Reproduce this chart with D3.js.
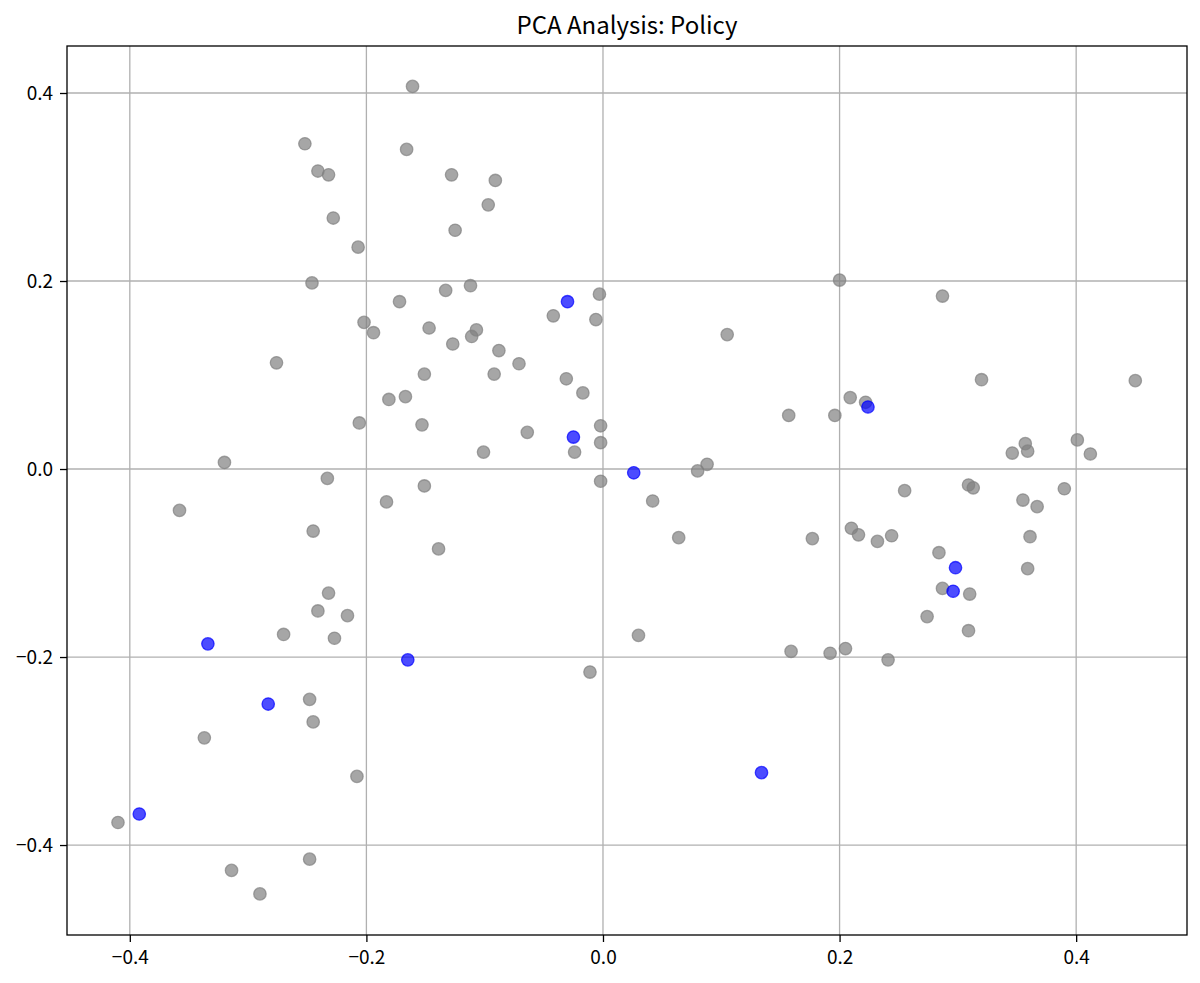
<!DOCTYPE html>
<html>
<head>
<meta charset="utf-8">
<script src="https://cdn.jsdelivr.net/npm/d3@7"></script>
<style>
  body { margin: 0; background: #fff; }
  text { font-family: "Noto Sans CJK JP", "Noto Sans", sans-serif; }
</style>
</head>
<body>
<script>
// PCA scores
var otherX = [-0.161, -0.252, -0.166, -0.241, -0.232, -0.128, -0.091, -0.097, -0.228, -0.125,
    -0.207, -0.246, 0.200, 0.287, -0.133, -0.112, -0.003, -0.172, -0.202, -0.042,
    -0.006, -0.147, -0.194, -0.107, -0.111, 0.105, -0.127, -0.088, -0.276, -0.071,
    -0.151, -0.092, -0.031, 0.320, 0.450, -0.017, -0.167, -0.181, 0.209, 0.222,
    0.157, 0.196, -0.206, -0.153, -0.002, -0.064, 0.401, 0.357, 0.346, 0.359,
    0.412, -0.101, -0.002, -0.024, -0.320, 0.088, 0.080, -0.233, -0.002, -0.151,
    0.309, 0.313, 0.255, 0.390, -0.183, 0.042, 0.355, 0.367, -0.358, -0.245,
    0.210, 0.216, 0.232, 0.244, 0.064, 0.177, -0.139, 0.361, 0.284, 0.359,
    0.287, 0.310, -0.232, -0.241, -0.216, 0.274, -0.270, -0.227, 0.309, 0.030,
    0.159, 0.192, 0.205, 0.241, -0.011, -0.248, -0.245, -0.337, -0.208, -0.410,
    -0.248, -0.314, -0.290];
var otherY = [0.407, 0.346, 0.340, 0.317, 0.313, 0.313, 0.307, 0.281, 0.267, 0.254,
    0.236, 0.198, 0.201, 0.184, 0.190, 0.195, 0.186, 0.178, 0.156, 0.163,
    0.159, 0.150, 0.145, 0.148, 0.141, 0.143, 0.133, 0.126, 0.113, 0.112,
    0.101, 0.101, 0.096, 0.095, 0.094, 0.081, 0.077, 0.074, 0.076, 0.071,
    0.057, 0.057, 0.049, 0.047, 0.046, 0.039, 0.031, 0.027, 0.017, 0.019,
    0.016, 0.018, 0.028, 0.018, 0.007, 0.005, -0.002, -0.010, -0.013, -0.018,
    -0.017, -0.020, -0.023, -0.021, -0.035, -0.034, -0.033, -0.040, -0.044, -0.066,
    -0.063, -0.070, -0.077, -0.071, -0.073, -0.074, -0.085, -0.072, -0.089, -0.106,
    -0.127, -0.133, -0.132, -0.151, -0.156, -0.157, -0.176, -0.180, -0.172, -0.177,
    -0.194, -0.196, -0.191, -0.203, -0.216, -0.245, -0.269, -0.286, -0.327, -0.376,
    -0.415, -0.427, -0.452];

// highlighted (policy) documents
var policyX = [-0.030, -0.025, 0.026, 0.224, 0.298, 0.296, -0.165, -0.334, -0.283, 0.134, -0.392];
var policyY = [0.178, 0.034, -0.004, 0.066, -0.105, -0.130, -0.203, -0.186, -0.250, -0.323, -0.367];

var tickValues = [-0.4, -0.2, 0.0, 0.2, 0.4];

var margin = {top: 46, right: 13, bottom: 48, left: 67},
    width = 1200 - margin.left - margin.right,
    height = 983 - margin.top - margin.bottom;

var x = d3.scaleLinear()
    .domain([-0.4531, 0.4937])
    .range([0, width]);

var y = d3.scaleLinear()
    .domain([-0.4957, 0.45])
    .range([height, 0]);

var svg = d3.select("body").append("svg")
    .attr("width", width + margin.left + margin.right)
    .attr("height", height + margin.top + margin.bottom);

var group = svg.append("g")
    .attr("transform", "translate(" + margin.left + "," + margin.top + ")");

// grid
group.selectAll(".vgrid").data(tickValues).enter().append("line")
    .attr("x1", d => x(d)).attr("x2", d => x(d))
    .attr("y1", 0).attr("y2", height)
    .style("stroke", "#b0b0b0").style("stroke-width", 1.3);

group.selectAll(".hgrid").data(tickValues).enter().append("line")
    .attr("x1", 0).attr("x2", width)
    .attr("y1", d => y(d)).attr("y2", d => y(d))
    .style("stroke", "#b0b0b0").style("stroke-width", 1.3);

function drawPoints(xs, ys, color) {
    group.append("g").selectAll("circle")
        .data(xs.map((v, i) => [v, ys[i]]))
        .enter().append("circle")
        .attr("cx", d => x(d[0]))
        .attr("cy", d => y(d[1]))
        .attr("r", 6.2)
        .style("fill", color)
        .style("fill-opacity", 0.7)
        .style("stroke", color)
        .style("stroke-opacity", 0.7)
        .style("stroke-width", 1.3);
}

drawPoints(otherX, otherY, "#808080");
drawPoints(policyX, policyY, "#0000ff");

var fmt = d3.format(".1f");

var xAxis = group.append("g")
    .attr("transform", "translate(0," + height + ")")
    .call(d3.axisBottom(x).tickValues(tickValues).tickFormat(fmt).tickSize(7).tickPadding(8.5));

var yAxis = group.append("g")
    .call(d3.axisLeft(y).tickValues(tickValues).tickFormat(fmt).tickSize(7).tickPadding(7));

[xAxis, yAxis].forEach(a => {
    a.select(".domain").remove();
    a.selectAll(".tick line").style("stroke", "#000").style("stroke-width", 1.3);
    a.selectAll(".tick text")
        .style("font-family", "'Noto Sans CJK JP', 'Noto Sans', sans-serif")
        .style("font-size", "19px")
        .style("fill", "#000");
});

// frame
group.append("rect")
    .attr("width", width)
    .attr("height", height)
    .style("fill", "none")
    .style("stroke", "#000")
    .style("stroke-width", 1.3);

svg.append("text")
    .attr("x", margin.left + width / 2)
    .attr("y", 34)
    .attr("text-anchor", "middle")
    .style("font-size", "24px")
    .style("fill", "#000")
    .text("PCA Analysis: Policy");
</script>
</body>
</html>
